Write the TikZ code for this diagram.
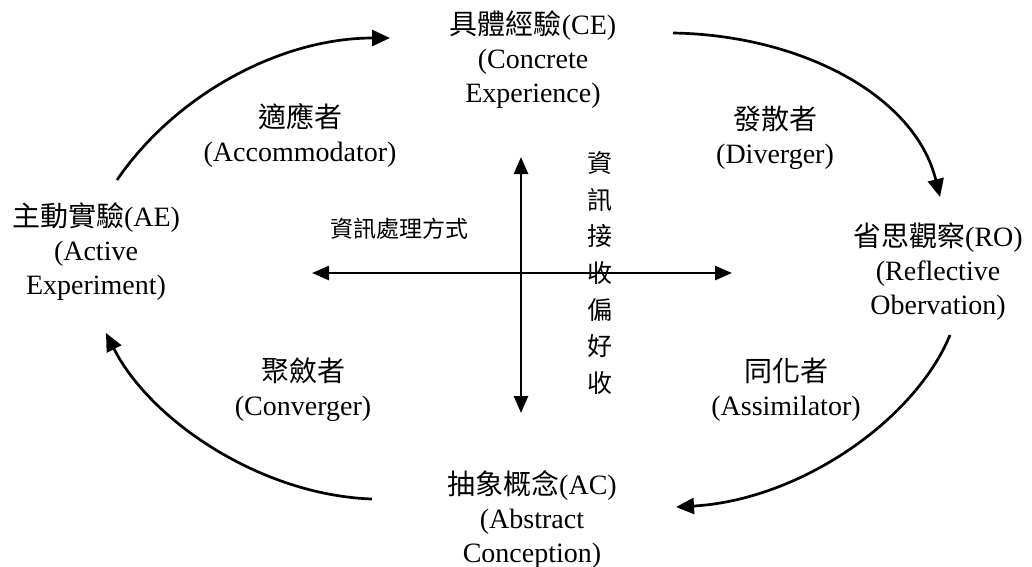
\documentclass[tikz,border=0pt]{standalone}
\usepackage{fontspec}
\setmainfont{Liberation Serif}
\newfontfamily\cjk{Noto Sans CJK TC}
\usetikzlibrary{arrows.meta}
\begin{document}
\begin{tikzpicture}[x=1pt,y=-1pt,
  lbl/.style={align=center, inner sep=0pt, font=\fontsize{28}{34}\selectfont},
  flow/.style={line width=2.7pt, -{Triangle[length=18pt,width=16pt]}},
  axis/.style={line width=2.5pt, {Triangle[length=17pt,width=14pt]}-{Triangle[length=17pt,width=14pt]}}]
\useasboundingbox (0,0) rectangle (1032,566);

% main stages
\node[lbl] (ce) at (533,60) {{\cjk 具體經驗}(CE)\\(Concrete\\Experience)};
\node[lbl] (ro) at (938,272) {{\cjk 省思觀察}(RO)\\(Reflective\\Obervation)};
\node[lbl] (ac) at (532,519) {{\cjk 抽象概念}(AC)\\(Abstract\\Conception)};
\node[lbl] (ae) at (96,252) {{\cjk 主動實驗}(AE)\\(Active\\Experiment)};

% learning styles
\node[lbl] (acc) at (300,135) {{\cjk 適應者}\\(Accommodator)};
\node[lbl] (div) at (775,138) {{\cjk 發散者}\\(Diverger)};
\node[lbl] (con) at (303,390) {{\cjk 聚斂者}\\(Converger)};
\node[lbl] (ass) at (786,390) {{\cjk 同化者}\\(Assimilator)};

% axis labels
\node[inner sep=0pt, font=\cjk\fontsize{23}{28}\selectfont] (proc) at (399,229) {資訊處理方式};
\node[inner sep=0pt, align=center, font=\cjk\fontsize{25}{36.7}\selectfont] (recv) at (600,273)
  {資\\訊\\接\\收\\偏\\好\\收};

% axes
\coordinate (hl) at (312,273);
\coordinate (hr) at (732,273);
\coordinate (vt) at (521,157);
\coordinate (vb) at (521,413);
\draw[axis] (hl) -- (hr);
\draw[axis] (vt) -- (vb);

% cycle arrows
\coordinate (a1s) at (117,180);
\coordinate (a1e) at (390,38);
\coordinate (a2s) at (673,33);
\coordinate (a2e) at (940,197);
\coordinate (a3s) at (950,335);
\coordinate (a3e) at (676,507);
\coordinate (a4s) at (372,499);
\coordinate (a4e) at (106,333);
\draw[flow] (a1s) .. controls (175,95) and (280,38) .. (a1e);
\draw[flow] (a2s) .. controls (800,35) and (915,95) .. (a2e);
\draw[flow] (a3s) .. controls (915,420) and (800,500) .. (a3e);
\draw[flow] (a4s) .. controls (260,495) and (150,420) .. (a4e);
\end{tikzpicture}
\end{document}
